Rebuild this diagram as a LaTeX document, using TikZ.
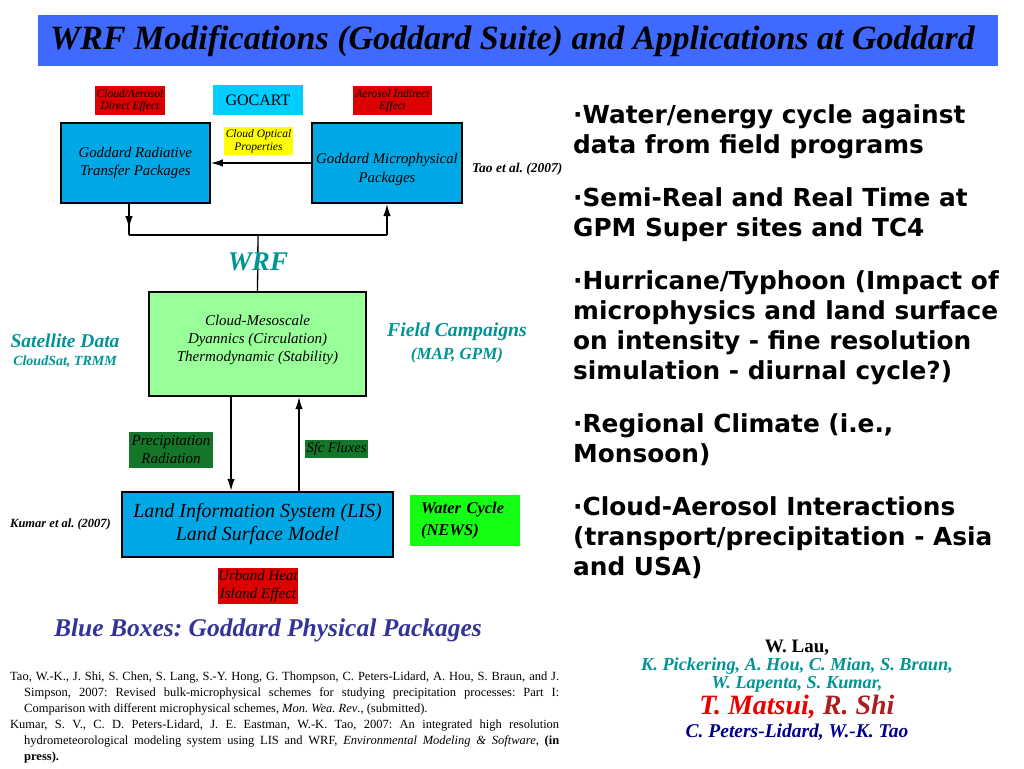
\documentclass[tikz,border=0pt]{standalone}
\usepackage{fontspec}
\usepackage{tikz}
\usetikzlibrary{arrows.meta,positioning}

\newfontfamily\tnr{Liberation Serif}
\newfontfamily\comicfont{DejaVu Sans}

\definecolor{titleblue}{RGB}{64,105,255}
\definecolor{pkgblue}{RGB}{0,168,230}
\definecolor{dyngreen}{RGB}{153,255,153}
\definecolor{fxred}{RGB}{221,0,0}
\definecolor{fxdkgreen}{RGB}{20,118,40}
\definecolor{fxgreen}{RGB}{20,255,20}
\definecolor{gocartcyan}{RGB}{0,204,255}
\definecolor{optyellow}{RGB}{255,255,0}
\definecolor{labelteal}{RGB}{0,148,148}
\definecolor{capnavy}{RGB}{51,51,153}
\definecolor{authnavy}{RGB}{0,0,140}
\definecolor{authred}{RGB}{235,0,0}
\definecolor{authdkred}{RGB}{170,30,30}

\begin{document}
\frenchspacing
\begin{tikzpicture}[x=1pt,y=1pt,>={Latex[length=12pt,width=7.5pt]},node distance=21pt]
        \tikzstyle{pkg}=[draw=black,line width=2.2pt,fill=pkgblue,inner sep=0pt,align=center]
        \tikzstyle{tag}=[inner sep=0pt,align=center,font=\tnr\itshape\fontsize{11.5}{12.5}\selectfont]
        \tikzstyle{lbl}=[text=labelteal,font=\tnr\bfseries\itshape]
        \tikzstyle{conn}=[line width=1.3pt]

        \path[use as bounding box] (0,0) rectangle (1024,-768);

        % title bar
        \node[fill=titleblue,minimum width=960pt,minimum height=51pt,inner sep=0pt] (bar) at (518,-40.5) {};
        \node[font=\tnr\bfseries\itshape\fontsize{34}{36}\selectfont] (title) at (512.5,-41)
          {WRF Modifications (Goddard Suite) and Applications at Goddard};

        % radiation / microphysics
        \node[tag,fill=fxred,minimum width=70pt,minimum height=29pt]  (direct)   at (130,-100.5) {Cloud/Aerosol\\Direct Effect};
        \node[fill=gocartcyan,minimum width=90pt,minimum height=30pt,inner sep=0pt,font=\tnr\fontsize{16}{17}\selectfont] (gocart) at (258,-100) {GOCART};
        \node[tag,fill=fxred,minimum width=79pt,minimum height=29pt]  (indirect) at (392.5,-100.5) {Aerosol Indirect\\Effect};

        \node[pkg,minimum width=149pt,minimum height=80pt,font=\tnr\itshape\fontsize{14.8}{18}\selectfont] (rad)   at (135.3,-163) {Goddard Radiative\\Transfer Packages};
        \node[pkg,minimum width=150pt,minimum height=80pt,font=\tnr\itshape\fontsize{14.8}{19}\selectfont] (micro) at (387,-163) {\\[4pt]Goddard Microphysical\\Packages};
        \node[tag,fill=optyellow,minimum width=69pt,minimum height=28pt,font=\tnr\itshape\fontsize{11.5}{13.5}\selectfont] (optics) at (258.5,-141) {Cloud Optical\\Properties};
        \node[font=\tnr\bfseries\itshape\fontsize{13.5}{15}\selectfont,anchor=base west,inner sep=0pt] (tao) at (472,-172) {Tao et al. (2007)};

        \draw[conn,->] (micro.west) -- (rad.east);

        % WRF coupling
        \coordinate (busl) at (129,-235);
        \coordinate (busm) at (258,-235);
        \coordinate (busr) at (387,-235);
        \draw[conn] (busl) -- (busr);
        \draw[conn,->] (busl |- rad.south) -- ++(0,-24);
        \draw[conn] (busl |- rad.south) -- (busl);
        \draw[conn,->] (busr) -- (micro.south);

        \node[pkg,fill=dyngreen,minimum width=217pt,minimum height=104pt,font=\tnr\itshape\fontsize{15}{18}\selectfont] (dyn) at (257.5,-344)
          {Cloud-Mesoscale\\Dyannics (Circulation)\\Thermodynamic (Stability)\\[-6pt]};
        \draw[conn] (busm) -- (dyn.north);
        \node[lbl,font=\tnr\bfseries\itshape\fontsize{27}{30}\selectfont] (wrf) at (258,-262) {WRF};

        \node[lbl,font=\tnr\bfseries\itshape\fontsize{19.5}{21}\selectfont] (sat) at (65,-341) {Satellite Data};
        \node[lbl,font=\tnr\bfseries\itshape\fontsize{14}{15}\selectfont] (cloudsat) [below of=sat] {CloudSat, TRMM};
        \node[lbl,font=\tnr\bfseries\itshape\fontsize{19.7}{21}\selectfont] (field) at (457,-332) {Field Campaigns};
        \node[lbl,font=\tnr\bfseries\itshape\fontsize{17}{18}\selectfont] (mapgpm) [below of=field, node distance=23pt] {(MAP, GPM)};

        % land surface
        \node[pkg,line width=2.5pt,minimum width=271pt,minimum height=65pt,font=\tnr\itshape\fontsize{20}{23}\selectfont] (lis) at (257.5,-524.5)
          {Land Information System (LIS)\\Land Surface Model};
        \draw[conn,->] ([xshift=-26.5pt]dyn.south) -- ([xshift=-26.5pt]lis.north);
        \draw[conn,->] ([xshift=41.5pt]lis.north) -- ([xshift=41.5pt]dyn.south);

        \node[tag,fill=fxdkgreen,minimum width=84pt,minimum height=36pt,font=\tnr\itshape\fontsize{15}{18}\selectfont] (precip) at (171,-450) {Precipitation\\Radiation};
        \node[tag,fill=fxdkgreen,minimum width=63pt,minimum height=18pt,font=\tnr\itshape\fontsize{14.5}{15}\selectfont] (sfc) at (336.5,-449) {Sfc Fluxes};
        \node[tag,fill=fxred,minimum width=80pt,minimum height=36pt,font=\tnr\itshape\fontsize{15}{18}\selectfont] (urban) at (258,-586) {Urband Heat\\Island Effect};
        \node[fill=fxgreen,minimum width=110pt,minimum height=51pt,inner xsep=11pt,align=left,text width=88pt,
              font=\tnr\bfseries\itshape\fontsize{16.5}{22}\selectfont] (water) at (465,-520.5) {Water Cycle\\(NEWS)};
        \node[font=\tnr\bfseries\itshape\fontsize{12.5}{14}\selectfont,anchor=base west,inner sep=0pt] (kumar) at (10,-527) {Kumar et al. (2007)};

        \node[text=capnavy,font=\tnr\bfseries\itshape\fontsize{25.5}{28}\selectfont,anchor=base] (caption) at (268,-636)
          {Blue Boxes: Goddard Physical Packages};

        % references
        \node[anchor=north west,inner sep=0pt,text width=549pt,align=justify,font=\tnr\fontsize{12.5}{16}\selectfont] (refs) at (10,-672) {%
          \noindent\hangindent=14pt\hangafter=1
          Tao, W.-K., J. Shi, S. Chen, S. Lang, S.-Y. Hong, G. Thompson, C. Peters-Lidard, A. Hou, S. Braun, and J.\linebreak
          Simpson, 2007: Revised bulk-microphysical schemes for studying precipitation processes: Part I:\linebreak
          Comparison with different microphysical schemes, \textit{Mon. Wea. Rev}., (submitted).\par
          \noindent\hangindent=14pt\hangafter=1
          Kumar, S. V., C. D. Peters-Lidard, J. E. Eastman, W.-K. Tao, 2007: An integrated high resolution\linebreak
          hydrometeorological modeling system using LIS and WRF, \textit{Environmental Modeling \& Software}, \textbf{(in}\linebreak
          \textbf{press).}\par};

        % applications
        \node[anchor=north west,inner sep=0pt,align=left,font=\comicfont\bfseries\fontsize{24.8}{30}\selectfont] (apps) at (573,-104) {%
          ·Water/energy cycle against\\
          data from field programs\\[23pt]
          ·Semi-Real and Real Time at\\
          GPM Super sites and TC4\\[23pt]
          ·Hurricane/Typhoon (Impact of\\
          microphysics and land surface\\
          on intensity - fine resolution\\
          simulation - diurnal cycle?)\\[23pt]
          ·Regional Climate (i.e.,\\
          Monsoon)\\[23pt]
          ·Cloud-Aerosol Interactions\\
          (transport/precipitation - Asia\\
          and USA)};

        % authors
        \node[anchor=base,font=\tnr\bfseries\fontsize{19}{20}\selectfont] (lau) at (797,-652) {W. Lau,};
        \node[anchor=base,lbl,font=\tnr\bfseries\itshape\fontsize{18.3}{19}\selectfont] (pickering) at (797,-670) {K. Pickering, A. Hou, C. Mian, S. Braun,};
        \node[anchor=base,lbl,font=\tnr\bfseries\itshape\fontsize{18.3}{19}\selectfont] (lapenta) at (797,-688) {W. Lapenta, S. Kumar,};
        \node[anchor=base,font=\tnr\bfseries\itshape\fontsize{28}{30}\selectfont] (matsui) at (797,-714)
          {\textcolor{authred}{T. Matsui,} \textcolor{authdkred}{R. Shi}};
        \node[anchor=base,text=authnavy,font=\tnr\bfseries\itshape\fontsize{19.5}{20}\selectfont] (peters) at (797,-737) {C. Peters-Lidard, W.-K. Tao};
\end{tikzpicture}
\end{document}
